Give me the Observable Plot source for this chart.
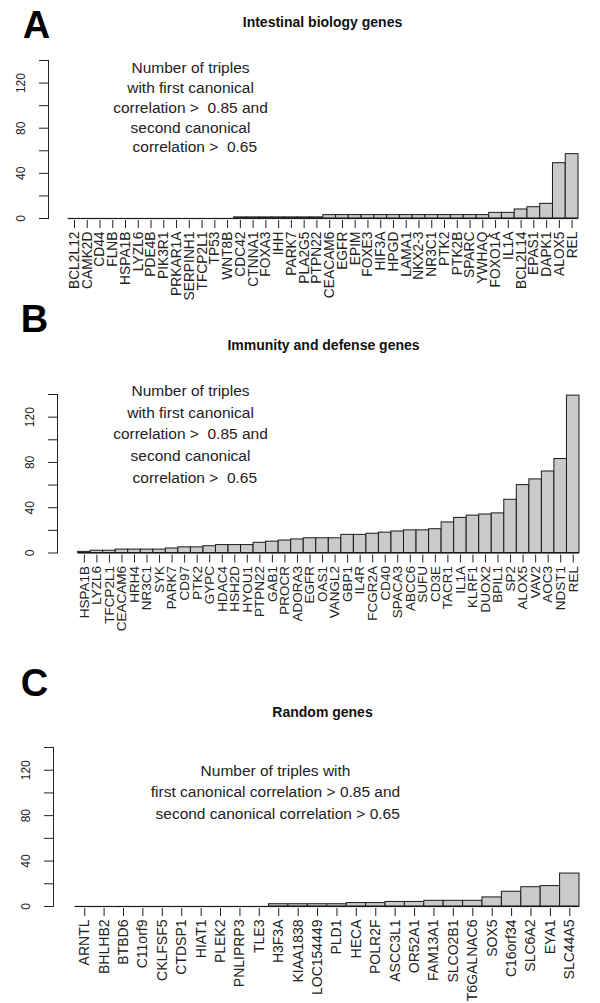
<!DOCTYPE html>
<html><head><meta charset="utf-8">
<script src="https://cdn.jsdelivr.net/npm/d3@7"></script>
<script src="https://cdn.jsdelivr.net/npm/@observablehq/plot@0.6"></script>
<style>
body{margin:0;background:#fff;}
#wrap{position:relative;width:600px;height:1003px;overflow:hidden;background:#fff;}
.panel{position:absolute;left:0;}
</style></head><body><div id="wrap"></div>
<script>
// Panel A: Intestinal biology genes
const genesA = ["BCL2L12","CAMK2D","CD44","FLNB","HSPA1B","LYZL6","PDE4B","PIK3R1","PRKAR1A","SERPINH1","TFCP2L1","TP53","WNT8B","CDC42","CTNNA1","FOXA3","IHH","PARK7","PLA2G5","PTPN22","CEACAM6","EGFR","EPIM","FOXE3","HIF3A","HPGD","LAMA1","NKX2-3","NR3C1","PTK2","PTK2B","SPARC","YWHAQ","FOXO1A","IL1A","BCL2L14","EPAS1","DAPK1","ALOX5","REL"];
const valuesA = [0,0,0,0,0,0,0,0,0,0,0,0,0,1,1,1,1,1,1,1,3,3,3,3,3,3,3,3,3,3,3,3,3,5,5,8,10,13,49,57];

// Panel B: Immunity and defense genes
const genesB = ["HSPA1B","LYZL6","TFCP2L1","CEACAM6","HRH4","NR3C1","SYK","PARK7","CD97","PTK2","GYPC","HDAC4","HSH2D","HYOU1","PTPN22","GAB1","PROCR","ADORA3","EGFR","OAS1","VANGL2","GBP1","IL4R","FCGR2A","CD40","SPACA3","ABCC6","SUFU","CD3E","TACR1","IL1A","KLRF1","DUOX2","BPIL1","SP2","ALOX5","VAV2","AOC3","NDST1","REL"];
const valuesB = [1,2,2,3,3,3,3,4,5,5,6,7,7,7,9,10,11,12,13,13,13,16,16,17,18,19,20,20,21,27,31,33,34,35,47,60,65,72,83,139];

// Panel C: Random genes
const genesC = ["ARNTL","BHLHB2","BTBD6","C11orf9","CKLFSF5","CTDSP1","HIAT1","PLEK2","PNLIPRP3","TLE3","H3F3A","KIAA1838","LOC154449","PLD1","HECA","POLR2F","ASCC3L1","OR52A1","FAM13A1","SLCO2B1","T6GALNAC6","SOX5","C16orf34","SLC6A2","EYA1","SLC44A5"];
const valuesC = [0,0,0,0,0,0,0,0,0,0,2,2,2,2,3,3,4,4,5,5,5,8,13,17,18,29];

const yTicks = [0,20,40,60,80,100,120,140];
const yTickLabels = [0,40,80,120];
const titles = ["Intestinal biology genes","Immunity and defense genes","Random genes"];
const letters = ["A","B","C"];
const notes = [
  "Number of triples\nwith first canonical\ncorrelation >\u00a0\u00a00.85 and\nsecond canonical\n\u00a0\u00a0correlation >\u00a0\u00a00.65",
  "Number of triples\nwith first canonical\ncorrelation >\u00a0\u00a00.85 and\nsecond canonical\n\u00a0\u00a0correlation >\u00a0\u00a00.65",
  "Number of triples with\nfirst canonical correlation > 0.85 and\n\u00a0second canonical correlation > 0.65"
];

const FONT = "'Liberation Sans', Arial, Helvetica, sans-serif";

function panel(o) {
  const data = o.genes.map((g, i) => ({gene: g, value: o.values[i]}));
  const frameCx = (o.ml + (600 - o.mr)) / 2;
  const NF = 15.5;
  const plot = Plot.plot({
    width: 600,
    height: o.h,
    marginTop: o.mt,
    marginBottom: o.h - o.mt - o.fh,
    marginLeft: o.ml,
    marginRight: o.mr,
    style: {fontFamily: FONT, background: "white", overflow: "visible"},
    x: {domain: o.genes, padding: 0, round: false, insetLeft: o.inset, axis: null},
    y: {domain: [0, 140], axis: null},
    marks: [
      Plot.barY(data, {x: "gene", y: "value", fill: "#cacaca", stroke: "#1a1a1a", strokeWidth: 1}),
      Plot.tickY(data, {x: "gene", y: d => 0, stroke: "#1a1a1a", strokeWidth: 1.2}),
      Plot.axisX({label: null, tickRotate: -90, tickSize: 8, tickPadding: 3, fontSize: o.gf, dy: 2, stroke: "#222", fill: "#222"}),
      Plot.frame({anchor: "left", stroke: "#222"}),
      Plot.axisY({label: null, ticks: yTicks, tickSize: 9, tickFormat: () => "", stroke: "#222"}),
      Plot.text(yTickLabels, {y: d => d, text: d => String(d), frameAnchor: "left", dx: -27, rotate: -90, textAnchor: "middle", lineAnchor: "middle", fontSize: 12, fill: "#222"}),
      Plot.text([o.title], {frameAnchor: "top", dx: o.tx - frameCx, dy: o.ty - o.mt, fontSize: 14, fontWeight: "bold", fill: "#111", lineAnchor: "middle"}),
      Plot.text([o.letter], {frameAnchor: "top-left", dx: o.lx - o.ml, dy: o.ly - o.mt, fontSize: 38, fontWeight: "bold", fill: "#000", lineAnchor: "middle", textAnchor: "middle"}),
      Plot.text([o.note], {frameAnchor: "top-left", dx: o.nx - o.ml, dy: o.ny - o.mt, fontSize: NF, lineHeight: o.nlh / NF, fill: "#222", textAnchor: "middle", lineAnchor: "middle"})
    ]
  });
  plot.classList.add("panel");
  plot.style.top = o.top + "px";
  document.getElementById("wrap").appendChild(plot);
}

panel({genes: genesA, values: valuesA, title: titles[0], letter: letters[0], note: notes[0],
  top: 0, h: 305, mt: 60, fh: 158, ml: 48, mr: 22, inset: 19.6, gf: 13.8,
  tx: 322, ty: 22, lx: 36, ly: 25, nx: 190, ny: 106, nlh: 19.75});
panel({genes: genesB, values: valuesB, title: titles[1], letter: letters[1], note: notes[1],
  top: 305, h: 360, mt: 89, fh: 158.5, ml: 57, mr: 21, inset: 20.6, gf: 13.5,
  tx: 323, ty: 40, lx: 34, ly: 14, nx: 190, ny: 127, nlh: 21.75});
panel({genes: genesC, values: valuesC, title: titles[2], letter: letters[2], note: notes[2],
  top: 665, h: 338, mt: 82, fh: 159, ml: 53, mr: 21, inset: 21.5, gf: 14,
  tx: 322, ty: 47, lx: 34, ly: 18, nx: 275, ny: 125, nlh: 21.5});
</script></body></html>
